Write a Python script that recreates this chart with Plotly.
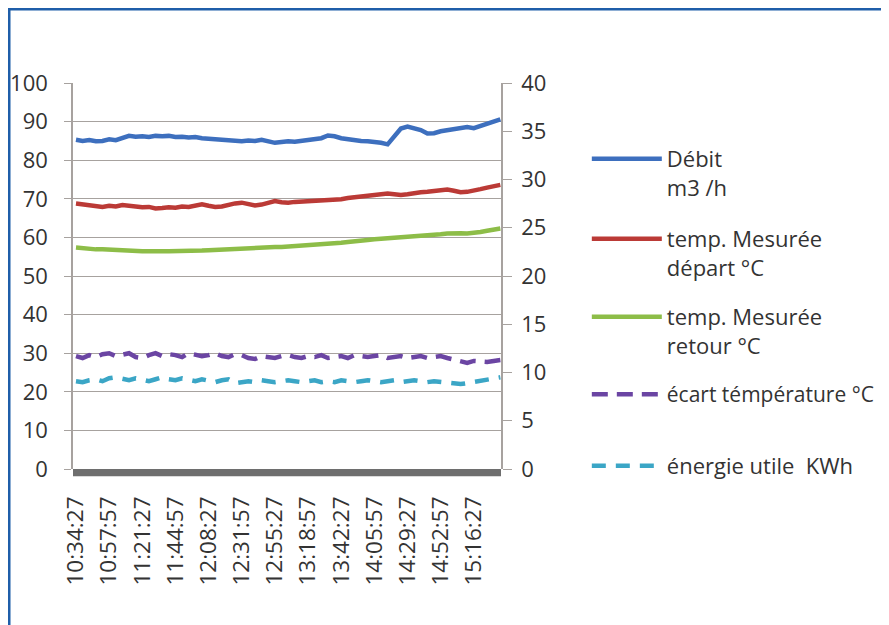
import plotly.graph_objects as go
from datetime import datetime, timedelta

# ---------------- data ----------------
tick_labels = ["10:34:27", "10:57:57", "11:21:27", "11:44:57", "12:08:27", "12:31:57",
               "12:55:27", "13:18:57", "13:42:27", "14:05:57", "14:29:27", "14:52:57",
               "15:16:27"]

# sample times (one sample every 4 min 42 s, starting at the first label)
t0 = datetime(2000, 1, 1, 10, 34, 27)
times = [(t0 + timedelta(seconds=282 * i)).strftime("%H:%M:%S") for i in range(65)]

debit = [85.3, 85.0, 85.2, 84.9, 85.0, 85.4, 85.2, 85.9, 86.3, 86.1,
         86.2, 86.0, 86.3, 86.2, 86.3, 86.0, 86.1, 85.9, 86.0, 85.7,
         85.6, 85.4, 85.3, 85.2, 85.0, 84.9, 85.1, 85.0, 85.3, 84.9,
         84.5, 84.7, 84.9, 84.8, 85.0, 85.1, 85.3, 85.7, 86.4, 86.2,
         85.7, 85.4, 85.2, 85.0, 84.9, 84.8, 84.5, 84.1, 86.0, 88.2,
         88.7, 88.3, 87.8, 86.9, 87.0, 87.5, 87.8, 88.0, 88.5, 88.6,
         88.3, 88.8, 89.5, 90.0, 90.6]

depart = [68.8, 68.6, 68.3, 68.0, 67.9, 68.2, 68.0, 68.4, 68.1, 68.0,
          67.8, 67.9, 67.5, 67.6, 67.8, 67.7, 68.0, 67.9, 68.4, 68.6,
          68.2, 67.9, 68.0, 68.5, 68.8, 69.0, 68.6, 68.3, 68.5, 68.9,
          69.4, 69.1, 69.0, 69.2, 69.3, 69.5, 69.4, 69.6, 69.7, 69.8,
          69.9, 70.2, 70.4, 70.7, 70.9, 71.1, 71.3, 71.4, 71.2, 71.0,
          71.2, 71.5, 71.7, 71.8, 72.0, 72.2, 72.4, 72.1, 71.7, 71.8,
          72.3, 72.5, 72.9, 73.2, 73.6]

retour = [57.4, 57.2, 57.0, 56.9, 56.9, 56.8, 56.7, 56.5, 56.4, 56.4,
          56.4, 56.4, 56.3, 56.4, 56.4, 56.4, 56.5, 56.6, 56.5, 56.6,
          56.7, 56.8, 56.9, 56.9, 57.1, 57.2, 57.3, 57.3, 57.5, 57.5,
          57.5, 57.5, 57.6, 57.7, 57.8, 57.9, 58.0, 58.1, 58.2, 58.4,
          58.6, 58.8, 58.9, 59.1, 59.3, 59.5, 59.6, 59.8, 59.9, 60.1,
          60.2, 60.3, 60.4, 60.5, 60.6, 60.8, 61.0, 61.1, 61.1, 61.0,
          61.1, 61.4, 61.7, 62.0, 62.3]

ecart = [11.7, 11.5, 11.8, 11.6, 11.9, 12.0, 11.7, 11.8, 12.0, 11.6,
         11.5, 11.8, 12.0, 11.7, 11.9, 11.8, 11.6, 12.0, 11.9, 11.7,
         11.8, 12.0, 11.7, 11.6, 11.9, 11.8, 11.5, 11.4, 11.7, 11.6,
         11.5, 11.7, 11.8, 11.6, 11.5, 11.7, 11.6, 11.8, 11.5, 11.6,
         11.7, 11.5, 11.8, 11.7, 11.6, 11.7, 11.8, 11.5, 11.6, 11.7,
         11.5, 11.6, 11.7, 11.5, 11.6, 11.7, 11.5, 11.3, 11.1, 11.0,
         11.2, 11.1, 11.1, 11.2, 11.3]

energie = [9.1, 9.0, 9.2, 9.3, 9.1, 9.4, 9.5, 9.3, 9.2, 9.4,
           9.3, 9.1, 9.3, 9.5, 9.3, 9.2, 9.4, 9.2, 9.1, 9.3,
           9.2, 9.0, 9.2, 9.3, 8.9, 9.0, 9.1, 9.0, 9.2, 9.1,
           9.0, 9.1, 9.2, 9.1, 9.0, 9.1, 9.2, 9.0, 9.1, 9.0,
           9.2, 9.1, 9.0, 9.1, 9.2, 9.1, 9.0, 9.1, 9.2, 9.0,
           9.1, 9.2, 9.1, 9.0, 9.1, 9.0, 8.9, 8.8, 8.8, 8.9,
           9.0, 9.2, 9.3, 9.4, 9.5]

names = ["Débit<br>m3 /h", "temp. Mesurée<br>départ °C", "temp. Mesurée<br>retour °C",
         "écart témpérature °C", "énergie utile  KWh"]

# ---------------- figure ----------------
FONT = "Open Sans"
TXT = "#333333"
fig = go.Figure()

series = [
    (debit, names[0], "#3d6fbe", "solid", "y", "legend"),
    (depart, names[1], "#bb3a36", "solid", "y", "legend2"),
    (retour, names[2], "#8dbd48", "solid", "y", "legend3"),
    (ecart, names[3], "#6b45a3", "16px,9px", "y2", "legend4"),
    (energie, names[4], "#3ba6c6", "14px,10px", "y2", "legend5"),
]
for vals, nm, col, dash, ax, lg in series:
    fig.add_trace(go.Scatter(x=times, y=vals, mode="lines", name=nm, yaxis=ax,
                             legend=lg, line=dict(color=col, width=4.5, dash=dash)))

grid = "#a7a29f"
W, H = 881, 617
fig.update_layout(
    width=W, height=H,
    margin=dict(l=65, r=388, t=75, b=156, autoexpand=False),
    paper_bgcolor="white", plot_bgcolor="white",
    font=dict(family=FONT, size=22, color=TXT),
    xaxis=dict(type="category", categoryorder="array", categoryarray=times,
               tickmode="array", tickvals=tick_labels, ticktext=tick_labels,
               tickangle=-90, range=[-0.45, 64.1], showgrid=False, showline=False,
               zeroline=False, ticks="", tickfont=dict(size=22.5, color=TXT),
               ticklabelstandoff=22, automargin=False),
    yaxis=dict(range=[0, 100], dtick=10, showgrid=True, gridcolor=grid, gridwidth=1.3,
               showline=True, linecolor=grid, linewidth=1.5, zeroline=False,
               ticks="outside", ticklen=7, tickcolor=grid, tickwidth=1.3,
               tickfont=dict(size=22, color=TXT), ticklabelstandoff=12,
               automargin=False),
    yaxis2=dict(range=[0, 40], dtick=5, overlaying="y", side="right", showgrid=False,
                showline=True, linecolor=grid, linewidth=1.5, zeroline=False,
                ticks="outside", ticklen=9, tickcolor=grid, tickwidth=1.3,
                tickfont=dict(size=22, color=TXT), ticklabelstandoff=5,
                automargin=False),
    showlegend=True,
)

legend_sizes = [22, 22, 22, 21, 22]
ys = [0.7893, 0.6596, 0.5332, 0.4068, 0.2917]
for i, lg in enumerate(["legend", "legend2", "legend3", "legend4", "legend5"]):
    fig.update_layout({lg: dict(x=0.657, y=ys[i], xref="container", yref="container",
                                xanchor="left", yanchor="top", bgcolor="rgba(0,0,0,0)",
                                font=dict(family=FONT, size=legend_sizes[i], color=TXT),
                                itemwidth=70, valign="top")})

# thick dark band under the category axis, and the blue frame
fig.add_shape(type="rect", xref="paper", yref="paper", x0=0, x1=1, y0=-0.019, y1=0,
              fillcolor="#6e6e6e", line=dict(width=0), layer="above")
fig.add_shape(type="line", xref="paper", yref="paper", x0=-0.16, x1=1.9,
              y0=1.192, y1=1.192, line=dict(color="#1f5ea9", width=3))
fig.add_shape(type="line", xref="paper", yref="paper", x0=-0.1495, x1=-0.1495,
              y0=1.195, y1=-0.42, line=dict(color="#1f5ea9", width=3))

fig.write_html("out.html")
